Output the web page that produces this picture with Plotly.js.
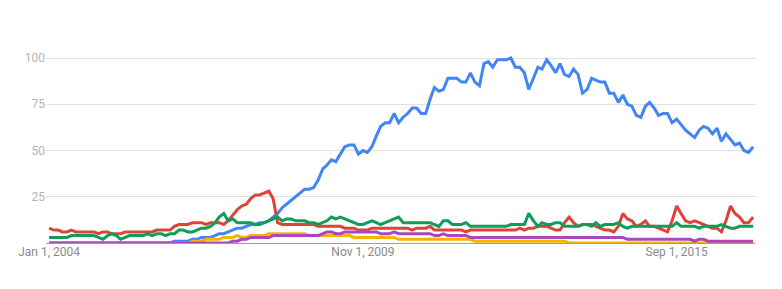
<!DOCTYPE html>
<html>
<head>
<meta charset="utf-8">
<script src="https://cdn.plot.ly/plotly-3.0.1.min.js"></script>
<style>
  html, body { margin: 0; padding: 0; background: #fff; }
  #chart { width: 782px; height: 289px; }
</style>
</head>
<body>
<div id="chart"></div>
<script>
// Monthly series, Jan 2004 .. Feb 2017 (one row per year)
var startYear = 2004;
var monthCount = 158;

var blueSeries = [
  0,0,0,0,0,0,0,0,0,0,0,0,
  0,0,0,0,0,0,0,0,0,0,0,0,
  0,0,0,0,1,1,1,1,2,2,3,3,
  3,4,5,5,6,7,8,8,9,10,10,11,
  11,12,14,16,19,21,23,25,27,29,29,30,
  34,40,42,45,44,48,52,53,53,48,50,49,
  52,58,63,65,65,70,65,68,70,73,73,70,
  70,78,84,82,83,89,89,89,87,87,92,87,
  85,97,98,95,99,99,99,100,95,95,92,83,
  89,95,94,99,96,92,97,91,90,94,91,81,
  83,89,88,87,87,81,81,76,80,75,74,69,
  68,74,76,73,69,70,70,65,67,64,61,59,
  57,61,63,62,59,62,55,59,56,53,54,50,
  49,52
];

var redSeries = [
  8,7,7,6,6,7,6,6,6,6,6,5,
  6,6,5,5,5,6,6,6,6,6,6,6,
  7,7,7,7,9,10,10,10,11,11,11,10,
  11,11,11,10,12,15,18,20,21,24,26,26,
  27,28,24,11,10,10,10,10,10,10,10,10,
  9,9,9,9,9,9,8,8,8,7,7,7,
  8,8,8,8,8,8,8,8,8,7,8,8,
  8,9,7,7,7,7,7,7,7,6,7,7,
  7,7,7,7,7,7,7,7,7,8,7,8,
  8,9,9,9,8,7,7,11,14,11,9,10,
  10,10,9,8,7,7,6,9,16,13,12,9,
  10,12,9,9,8,7,6,12,20,16,12,11,
  12,11,10,9,8,8,6,12,20,16,14,11,
  11,14
];

var yellowSeries = [
  0,0,0,0,0,0,0,0,0,0,0,0,
  0,0,0,0,0,0,0,0,0,0,0,0,
  0,0,0,0,0,0,0,0,1,1,1,2,
  2,2,2,3,3,3,4,3,3,4,4,4,
  4,5,5,5,5,5,5,5,5,5,4,4,
  4,4,4,4,4,4,4,4,3,3,3,3,
  3,3,3,3,3,3,2,2,2,2,2,2,
  2,2,2,2,2,2,2,2,2,2,2,1,
  1,1,1,1,1,1,1,1,1,1,1,1,
  1,1,1,1,1,1,1,1,0,0,0,0,
  0,0,0,0,0,0,0,0,0,0,0,0,
  0,0,0,0,0,0,0,0,0,0,0,0,
  0,0,0,0,0,0,0,0,0,0,0,0,
  0,0
];

var greenSeries = [
  3,3,3,3,3,4,4,4,4,4,4,3,
  2,4,5,4,2,3,4,4,4,4,5,4,
  5,5,4,5,5,7,7,6,6,7,8,8,
  9,11,14,16,12,13,11,11,11,11,10,10,
  11,12,13,14,12,13,13,12,12,12,11,11,
  10,11,12,14,13,14,13,12,11,10,10,11,
  12,11,10,11,12,13,14,11,11,11,11,11,
  11,11,10,9,12,12,10,10,10,11,9,9,
  9,9,9,9,9,9,9,10,10,10,10,16,
  12,9,11,10,10,11,11,9,9,9,9,10,
  10,9,11,9,10,10,10,11,9,8,9,9,
  9,9,9,9,9,9,9,9,11,9,9,9,
  9,8,9,9,9,9,10,9,8,8,9,9,
  9,9
];

var purpleSeries = [
  0,0,0,0,0,0,0,0,0,0,0,0,
  0,0,0,0,0,0,0,0,0,0,0,0,
  0,0,0,0,0,0,0,0,0,0,0,0,
  0,0,0,0,0,1,1,2,2,3,3,3,
  3,3,4,4,4,4,4,4,4,4,4,4,
  4,5,6,6,5,5,6,6,6,6,6,6,
  6,6,5,5,5,6,5,5,5,5,5,5,
  5,5,4,4,5,4,4,4,4,4,3,3,
  3,3,3,3,3,3,3,3,3,3,3,3,
  3,3,3,3,3,3,3,3,3,3,3,3,
  3,3,3,3,3,3,3,3,3,2,2,2,
  2,2,2,2,2,2,2,2,2,2,2,2,
  1,2,2,1,1,1,1,1,1,1,1,1,
  1,1
];

var xTickValues = ['2004-01-01', '2009-11-01', '2015-09-01'];
var xTickLabels = ['Jan 1, 2004', 'Nov 1, 2009', 'Sep 1, 2015'];
var yTickValues = [0, 25, 50, 75, 100];
var yTickLabels = ['', '25', '50', '75', '100'];

function pad(n) { return (n < 10 ? '0' : '') + n; }
var months = [];
for (var k = 0; k < monthCount; k++) {
  var y = startYear + Math.floor(k / 12);
  var m = (k % 12) + 1;
  months.push(y + '-' + pad(m) + '-01');
}

function line(values, color) {
  return {
    type: 'scatter', mode: 'lines', x: months, y: values,
    line: { color: color, width: 3 }, hoverinfo: 'skip', showlegend: false
  };
}

var data = [
  line(blueSeries, '#4285f4'),
  line(redSeries, '#db4437'),
  line(yellowSeries, '#f4b400'),
  line(greenSeries, '#0f9d58'),
  line(purpleSeries, '#ab47bc')
];

var layout = {
  width: 782, height: 289,
  margin: { l: 46, r: 27, t: 21, b: 46, pad: 0 },
  paper_bgcolor: '#fff', plot_bgcolor: '#fff',
  font: { family: 'Roboto, Arial, sans-serif', size: 12, color: '#999' },
  showlegend: false,
  xaxis: {
    type: 'date',
    range: ['2003-12-11', '2017-02-14'],
    tickmode: 'array', tickvals: xTickValues, ticktext: xTickLabels,
    showgrid: false, zeroline: false, showline: false,
    ticks: '', tickfont: { size: 12, color: '#8a8a8a' }
  },
  yaxis: {
    range: [0, 120],
    tickmode: 'array', tickvals: yTickValues, ticktext: yTickLabels,
    showgrid: true, gridcolor: '#e0e0e0', gridwidth: 1,
    zeroline: true, zerolinecolor: '#9e9e9e', zerolinewidth: 1,
    showline: false, ticks: '',
    tickfont: { size: 12, color: '#b5b5b5' }
  }
};

Plotly.newPlot('chart', data, layout, { displayModeBar: false, staticPlot: true });
</script>
</body>
</html>
